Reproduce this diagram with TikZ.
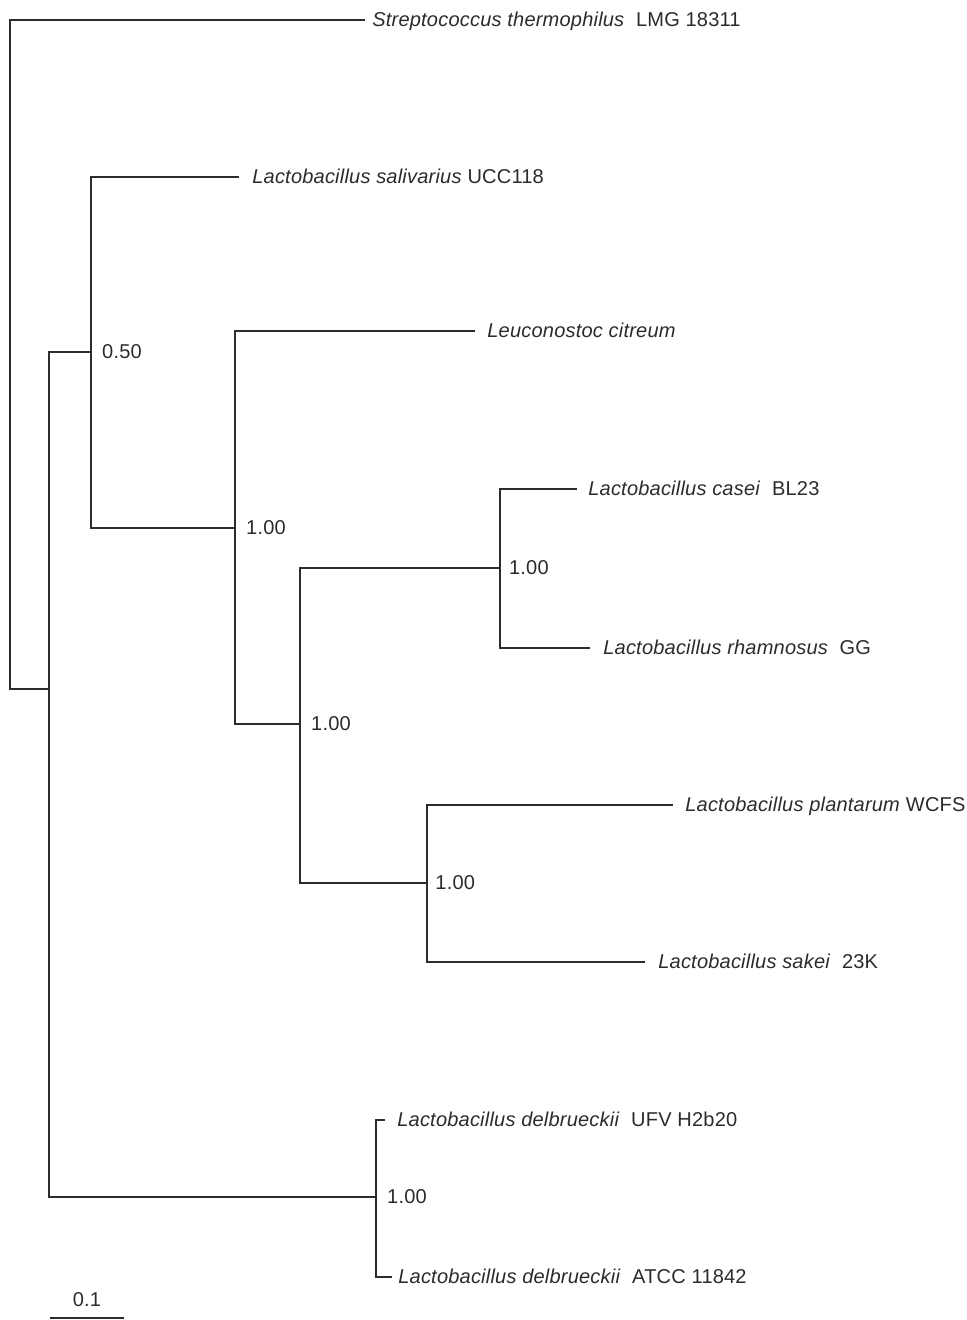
\documentclass[tikz,border=0pt]{standalone}
\usepackage{fontspec}
\setmainfont{Liberation Sans}[LetterSpace=1]
\usetikzlibrary{positioning}
\definecolor{treeline}{HTML}{2A2D30}
\definecolor{ink}{HTML}{2B2B2B}

\tikzset{
  edge/.style={line width=0.04cm, draw=treeline},
  taxon/.style={anchor=west, inner ysep=0pt, inner xsep=#1*0.02cm, text=ink,
    font=\fontsize{11.4}{13}\selectfont, text height=1.45ex, text depth=0pt},
  support/.style={anchor=west, inner xsep=6.2pt, text=ink,
    font=\fontsize{11.4}{13}\selectfont, text height=1.45ex, text depth=0pt}
}

\begin{document}
\begin{tikzpicture}[x=0.02cm, y=-0.02cm]
\useasboundingbox (0,0) rectangle (967,1320);

% inner nodes of the tree
\coordinate (root) at (10,689);
\coordinate (nA) at (49,689);
\coordinate (nB) at (91,352);
\coordinate (nC) at (235,528);
\coordinate (nD) at (300,724);
\coordinate (nE) at (500,568);
\coordinate (nF) at (427,883);
\coordinate (nG) at (376,1197);

% taxa
\node[taxon=7] (strep) at (365,20) {\textit{Streptococcus thermophilus}\ \ LMG 18311};
\node[taxon=13] (saliv) at (239,177) {\textit{Lactobacillus salivarius} UCC118};
\node[taxon=12] (leuco) at (475,331) {\textit{Leuconostoc citreum}};
\node[taxon=11] (casei) at (577,489) {\textit{Lactobacillus casei}\ \ BL23};
\node[taxon=13] (rhamn) at (590,648) {\textit{Lactobacillus rhamnosus}\ \ GG};
\node[taxon=12] (plant) at (673,805) {\textit{Lactobacillus plantarum} WCFS};
\node[taxon=13] (sakei) at (645,962) {\textit{Lactobacillus sakei}\ \ 23K};
\node[taxon=12] (delufv) at (385,1120) {\textit{Lactobacillus delbrueckii}\ \ UFV H2b20};
\node[taxon=6] (delatcc) at (392,1277) {\textit{Lactobacillus delbrueckii}\ \ ATCC 11842};

% branches
\draw[edge] (strep.west) -| (root) -- (nA);
\draw[edge] (nB) -| (nA) |- (nG);
\draw[edge] (saliv.west) -| (nB) |- (nC);
\draw[edge] (leuco.west) -| (nC) |- (nD);
\draw[edge] (nE) -| (nD) |- (nF);
\draw[edge] (casei.west) -| (nE) |- (rhamn.west);
\draw[edge] (plant.west) -| (nF) |- (sakei.west);
\draw[edge] (delufv.west) -| (nG) |- (delatcc.west);

% support values
\node[support] (sB) at (nB) {0.50};
\node[support] (sC) at (nC) {1.00};
\node[support] (sD) at (nD) {1.00};
\node[support, inner xsep=5pt] (sE) at (nE) {1.00};
\node[support, inner xsep=4.6pt] (sF) at (nF) {1.00};
\node[support] (sG) at (nG) {1.00};

% scale bar
\coordinate (barL) at (50,1318);
\coordinate (barR) at (124,1318);
\draw[edge] (barL) -- coordinate (barM) (barR);
\node[text=ink, font=\fontsize{11.4}{13}\selectfont, above=3pt of barM] (barlab) {0.1};
\end{tikzpicture}
\end{document}
